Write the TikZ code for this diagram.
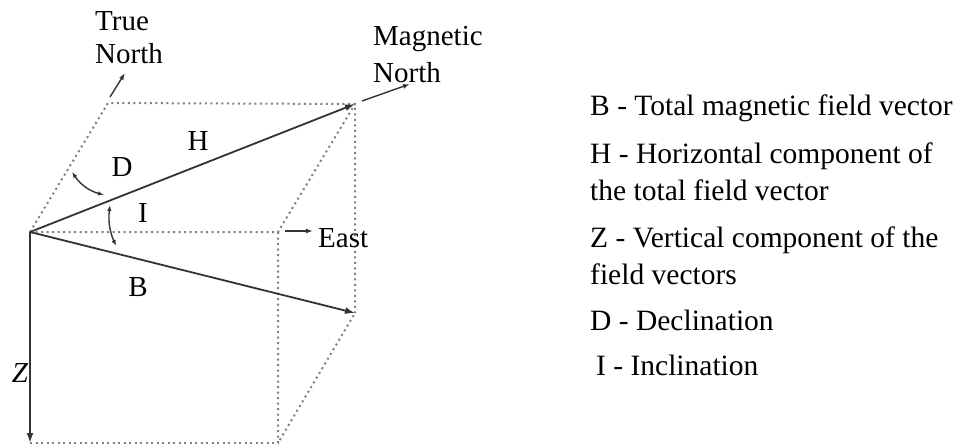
\documentclass[tikz,border=0pt]{standalone}
\usepackage{fontspec}
\setmainfont{Liberation Serif}
\usetikzlibrary{arrows.meta}

\begin{document}
\begin{tikzpicture}[x=1pt,y=-1pt,
    vec/.style={line width=1.8pt, draw=black!80, -{Latex[length=10pt,width=7pt]}},
    guide/.style={line width=2pt, draw=black!50, dash pattern=on 2pt off 3.5pt},
    pointer/.style={line width=1.4pt, draw=black!80, -{Latex[length=7pt,width=5pt]}},
    angarc/.style={line width=1.4pt, draw=black!80, {Latex[length=6pt,width=4.5pt]}-{Latex[length=6pt,width=4.5pt]}},
    lbl/.style={font=\fontsize{29}{33}\selectfont, inner sep=0pt, text=black},
    key/.style={lbl, anchor=north west, align=left, font=\fontsize{29.5}{36.5}\selectfont}]
\useasboundingbox (0,0) rectangle (961,447);

%%%%% START %%%%%

% corners of the box
\coordinate (O) at (30,232);
\coordinate (TN) at (108,103);
\coordinate (MN) at (355,104);
\coordinate (E) at (278,232);
\coordinate (BT) at (355,313);
\coordinate (ZB) at (30,443);
\coordinate (EB) at (278,443);

\draw[guide] (O) -- (TN) -- (MN) -- (BT);
\draw[guide] (O) -- (E) -- (MN);
\draw[guide] (E) -- (EB) -- (BT);
\draw[guide] (ZB) -- (EB);

\draw[vec] (O) -- (MN);
\draw[vec] (O) -- (BT);
\draw[vec] (O) -- (ZB);

% small pointers
\coordinate (tn1) at (110,97);
\coordinate (tn2) at (125,73);
\coordinate (mn1) at (362,101);
\coordinate (mn2) at (410,84);
\coordinate (ea1) at (285,231);
\coordinate (ea2) at (313,231);
\draw[pointer] (tn1) -- (tn2);
\draw[pointer] (mn1) -- (mn2);
\draw[pointer] (ea1) -- (ea2);

% angles
\coordinate (d1) at (72,172);
\coordinate (d2) at (104,195);
\coordinate (i1) at (110,205);
\coordinate (i2) at (116,246);
\draw[angarc] (d1) to[bend right=20] (d2);
\draw[angarc] (i1) to[bend right=15] (i2);

\node[lbl, anchor=north west, align=left] (truen) at (95,11) {True\\North};
\node[lbl, anchor=north west, align=left, font=\fontsize{29}{37}\selectfont] (magn) at (373,26) {Magnetic\\North};
\node[lbl] (hlab) at (198,141) {H};
\node[lbl] (dlab) at (122,167) {D};
\node[lbl] (ilab) at (143,213) {I};
\node[lbl] (blab) at (138,287) {B};
\node[lbl] (zlab) at (20,373) {\itshape Z};
\node[lbl, anchor=base west] (east) at (318,247) {East};

% key
\node[key] (kb) at (590,95) {B - Total magnetic field vector};
\node[key] (kh) at (590,143) {H - Horizontal component of\\the total field vector};
\node[key] (kz) at (590,227) {Z - Vertical component of the\\field vectors};
\node[key] (kd) at (590,310) {D - Declination};
\node[key] (ki) at (596,355) {I - Inclination};

%%%%% END %%%%%
\end{tikzpicture}
\end{document}
